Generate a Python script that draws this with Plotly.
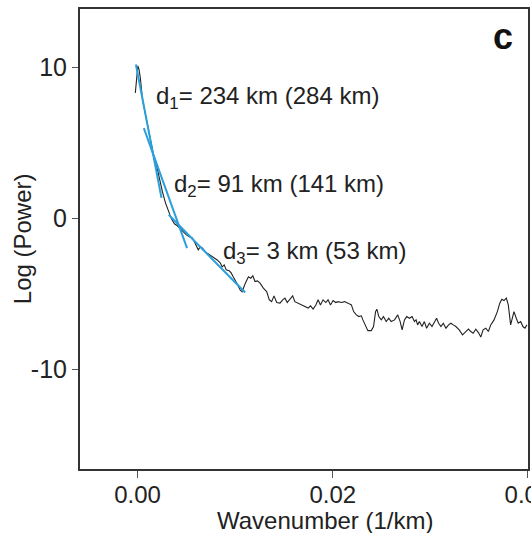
import plotly.graph_objects as go

# Power spectrum (wavenumber in 1/km, log power)
wavenumber = [
    -0.00023, -0.00007, 0.00003, 0.00015, 0.00028, 0.00051, 0.00082, 0.00112, 0.00143, 0.00163,
    0.00184, 0.00204, 0.00235, 0.00255, 0.00286, 0.00316, 0.00347, 0.00378, 0.00408, 0.00439,
    0.00469, 0.00500, 0.00531, 0.00561, 0.00582, 0.00602, 0.00622, 0.00643, 0.00663, 0.00694,
    0.00724, 0.00755, 0.00786, 0.00816, 0.00847, 0.00867, 0.00888, 0.00908, 0.00939, 0.00959,
    0.00980, 0.01000, 0.01020, 0.01051, 0.01071, 0.01102, 0.01136, 0.01160, 0.01181, 0.01204,
    0.01228, 0.01255, 0.01289, 0.01323, 0.01350, 0.01374, 0.01398, 0.01426, 0.01459, 0.01487,
    0.01510, 0.01534, 0.01561, 0.01589, 0.01612, 0.01646, 0.01681, 0.01714, 0.01748, 0.01772,
    0.01799, 0.01827, 0.01850, 0.01874, 0.01901, 0.01929, 0.01952, 0.01977, 0.02003, 0.02031,
    0.02054, 0.02089, 0.02122, 0.02156, 0.02191, 0.02214, 0.02242, 0.02268, 0.02293, 0.02309,
    0.02337, 0.02360, 0.02395, 0.02418, 0.02439, 0.02452, 0.02472, 0.02497, 0.02520, 0.02548,
    0.02574, 0.02599, 0.02633, 0.02666, 0.02691, 0.02711, 0.02735, 0.02758, 0.02786, 0.02813,
    0.02837, 0.02854, 0.02870, 0.02888, 0.02915, 0.02939, 0.02962, 0.02990, 0.03017, 0.03041,
    0.03064, 0.03085, 0.03109, 0.03133, 0.03160, 0.03187, 0.03211, 0.03235, 0.03262, 0.03296,
    0.03330, 0.03364, 0.03391, 0.03415, 0.03439, 0.03466, 0.03493, 0.03517, 0.03541, 0.03568,
    0.03595, 0.03619, 0.03653, 0.03687, 0.03711, 0.03732, 0.03755, 0.03779, 0.03799, 0.03823,
    0.03840, 0.03857, 0.03881, 0.03901, 0.03926, 0.03949, 0.03970, 0.03990,
]
log_power = [
    8.30, 9.74, 10.09, 9.83, 9.30, 7.84, 6.78, 5.72, 4.73, 4.20,
    3.80, 3.21, 2.41, 1.75, 1.02, 0.42, -0.04, -0.37, -0.50, -0.70,
    -0.90, -1.10, -1.23, -1.30, -1.56, -1.83, -2.09, -1.89, -1.96, -2.23,
    -2.36, -2.49, -2.62, -2.76, -2.95, -3.22, -3.09, -3.42, -3.48, -3.62,
    -3.88, -4.08, -4.34, -4.74, -4.87, -4.34, -3.88, -3.97, -3.81, -4.19,
    -4.15, -4.30, -4.63, -4.85, -5.40, -5.52, -5.14, -5.58, -5.62, -5.40,
    -5.29, -5.58, -5.36, -5.14, -5.52, -5.62, -5.74, -5.85, -5.95, -5.80,
    -6.02, -5.74, -5.40, -5.74, -5.40, -5.58, -5.40, -5.74, -5.45, -5.58,
    -5.52, -5.58, -5.52, -5.62, -5.74, -6.18, -6.40, -6.51, -6.46, -6.73,
    -7.17, -7.44, -7.44, -7.17, -6.18, -6.02, -6.51, -6.73, -6.51, -6.84,
    -6.62, -6.84, -6.73, -6.40, -6.84, -7.39, -6.73, -6.51, -6.62, -6.51,
    -6.84, -6.73, -7.06, -6.84, -7.17, -6.84, -7.28, -6.95, -7.17, -6.84,
    -6.62, -6.95, -7.17, -6.95, -7.28, -7.06, -6.95, -7.06, -7.17, -7.39,
    -7.72, -7.50, -7.34, -7.50, -7.61, -7.34, -7.57, -7.87, -7.39, -7.28,
    -7.50, -7.06, -6.73, -6.18, -5.64, -5.36, -5.45, -5.29, -5.74, -7.06,
    -6.51, -6.18, -6.62, -6.95, -6.84, -7.17, -7.28, -7.06,
]

# Linear fits (start/end points) for the three depth segments
fit1_k = [-0.00017, 0.00245]
fit1_p = [10.18, 1.35]
fit2_k = [0.00064, 0.00507]
fit2_p = [5.97, -1.98]
fit3_k = [0.00319, 0.01102]
fit3_p = [0.23, -4.92]

labels = [
    "d<sub>1</sub>= 234 km (284 km)",
    "d<sub>2</sub>= 91 km (141 km)",
    "d<sub>3</sub>= 3 km (53 km)",
]
label_k = [0.00164, 0.00349, 0.00856]
label_p = [8.0, 2.19, -2.25]

x_ticks = [0.0, 0.02, 0.04]
x_ticktext = ["0.00", "0.02", "0.04"]
y_ticks = [-10, 0, 10]
y_ticktext = ["-10", "0", "10"]

x_title = "Wavenumber (1/km)"
y_title = "Log (Power)"

FONT = "Liberation Sans, Arial, sans-serif"
TXT = "#222222"
BLUE = "#2a9fdc"

fig = go.Figure()
fig.add_trace(go.Scatter(x=wavenumber, y=log_power, mode="lines",
                         line=dict(color="#222222", width=1.1), showlegend=False))
for fk, fp in [(fit1_k, fit1_p), (fit2_k, fit2_p), (fit3_k, fit3_p)]:
    fig.add_trace(go.Scatter(x=fk, y=fp, mode="lines",
                             line=dict(color=BLUE, width=2), showlegend=False))

for t, kx, py in zip(labels, label_k, label_p):
    fig.add_annotation(x=kx, y=py, text=t, showarrow=False, xanchor="left",
                       yanchor="middle", font=dict(family=FONT, size=24, color=TXT))

fig.add_annotation(xref="paper", yref="paper", x=0.97, y=0.99, text="<b>c</b>",
                   showarrow=False, xanchor="right", yanchor="top",
                   font=dict(family=FONT, size=36, color="#111111"))

# axis titles
fig.add_annotation(xref="paper", yref="paper", x=0.548, y=-0.111, text=x_title,
                   showarrow=False, xanchor="center", yanchor="middle",
                   font=dict(family=FONT, size=24, color=TXT))
fig.add_annotation(xref="paper", yref="paper", x=-0.129, y=0.5, text=y_title,
                   textangle=-90, showarrow=False, xanchor="center", yanchor="middle",
                   font=dict(family=FONT, size=24, color=TXT))

fig.update_layout(
    width=531, height=533,
    margin=dict(l=80, r=3, t=9, b=64),
    paper_bgcolor="white", plot_bgcolor="white",
    font=dict(family=FONT, size=24, color=TXT),
    xaxis=dict(range=[-0.0059, 0.04001], tickvals=x_ticks, ticktext=x_ticktext,
               ticklabeloverflow="allow", automargin=False, ticklabelstandoff=-4,
               showgrid=False, zeroline=False, showline=True, linewidth=2,
               linecolor="#333333", mirror=True, ticks="outside", ticklen=7,
               tickwidth=1, tickcolor="#555555",
               tickfont=dict(family=FONT, size=24, color=TXT)),
    yaxis=dict(range=[-16.6, 13.85], tickvals=y_ticks, ticktext=y_ticktext,
               ticklabeloverflow="allow", automargin=False,
               showgrid=False, zeroline=False, showline=True, linewidth=2,
               linecolor="#333333", mirror=True, ticks="outside", ticklen=6,
               tickwidth=1, tickcolor="#555555",
               tickfont=dict(family=FONT, size=25, color=TXT)),
)

fig.write_html("out.html")
